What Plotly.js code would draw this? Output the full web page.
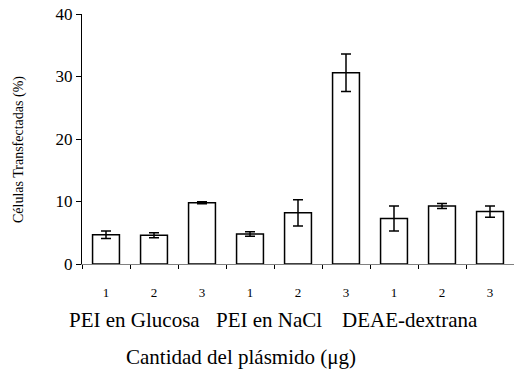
<!DOCTYPE html>
<html><head><meta charset="utf-8">
<script src="https://cdn.plot.ly/plotly-3.0.1.min.js"></script>
<style>
html,body{margin:0;padding:0;background:#fff}
#chart{width:514px;height:379px}
#chart text{font-family:"Liberation Serif","Times New Roman",serif !important}
</style>
</head><body><div id="chart"></div>
<script>
const categories = ["a1","a2","a3","b1","b2","b3","c1","c2","c3"];
const tickLabels = ["1","2","3","1","2","3","1","2","3"];
const values = [4.7, 4.6, 9.8, 4.8, 8.2, 30.6, 7.3, 9.3, 8.4];
const errors = [0.6, 0.4, 0.15, 0.35, 2.1, 3.0, 2.0, 0.4, 0.9];
const groupLabels = ["PEI en Glucosa", "PEI en NaCl", "DEAE-dextrana"];
const groupPositions = [0.6, 3.39, 6.33];
const yTitle = "Células Transfectadas (%)";
const xTitle = "Cantidad del plásmido (μg)";

const serif = "Liberation Serif";
const trace = {
  type: "bar", x: categories, y: values, width: 0.56,
  marker: {color: "#ffffff", line: {color: "#000000", width: 1.5}},
  error_y: {type: "data", array: errors, visible: true, color: "#000000", thickness: 1.5, width: 5}
};
const H = 379, mt = 14, mb = 115, ph = H - mt - mb;
const annotations = groupLabels.map((t, i) => ({
  text: t, x: groupPositions[i], xref: "x", y: (H - mb - 320) / ph, yref: "paper",
  xanchor: "center", yanchor: "middle",
  showarrow: false, font: {family: serif, size: 21, color: "#000"}
}));
annotations.push({text: xTitle, x: (241 - 82) / 432, xref: "paper", y: (H - mb - 357) / ph, yref: "paper",
  yanchor: "middle", xanchor: "center", showarrow: false, font: {family: serif, size: 21, color: "#000"}});
annotations.push({text: yTitle, textangle: -90, x: (19 - 82) / 432, xref: "paper", y: (H - mb - 149) / ph, yref: "paper",
  xanchor: "center", yanchor: "middle", showarrow: false, font: {family: serif, size: 14, color: "#000"}});

const layout = {
  width: 514, height: 379,
  margin: {l: 82, r: 0, t: mt, b: mb},
  paper_bgcolor: "#fff", plot_bgcolor: "#fff",
  font: {family: serif, color: "#000"},
  showlegend: false,
  xaxis: {
    type: "category", tickmode: "array", tickvals: categories, ticktext: tickLabels,
    tickson: "boundaries", ticks: "outside", ticklen: 4, tickcolor: "#000", tickwidth: 1,
    showline: true, linecolor: "#808080", linewidth: 1, showgrid: false, zeroline: false,
    ticklabelstandoff: 16,
    tickfont: {family: serif, size: 13, color: "#000"}, range: [-0.5, 8.5]
  },
  yaxis: {
    range: [0, 40], tickvals: [0, 10, 20, 30, 40], ticks: "outside", ticklen: 5, tickcolor: "#000",
    showline: true, linecolor: "#000", linewidth: 1, showgrid: false, zeroline: false,
    tickfont: {family: serif, size: 17, color: "#000"}
  },
  annotations: annotations
};
Plotly.newPlot("chart", [trace], layout, {displayModeBar: false, staticPlot: true});
</script></body></html>
